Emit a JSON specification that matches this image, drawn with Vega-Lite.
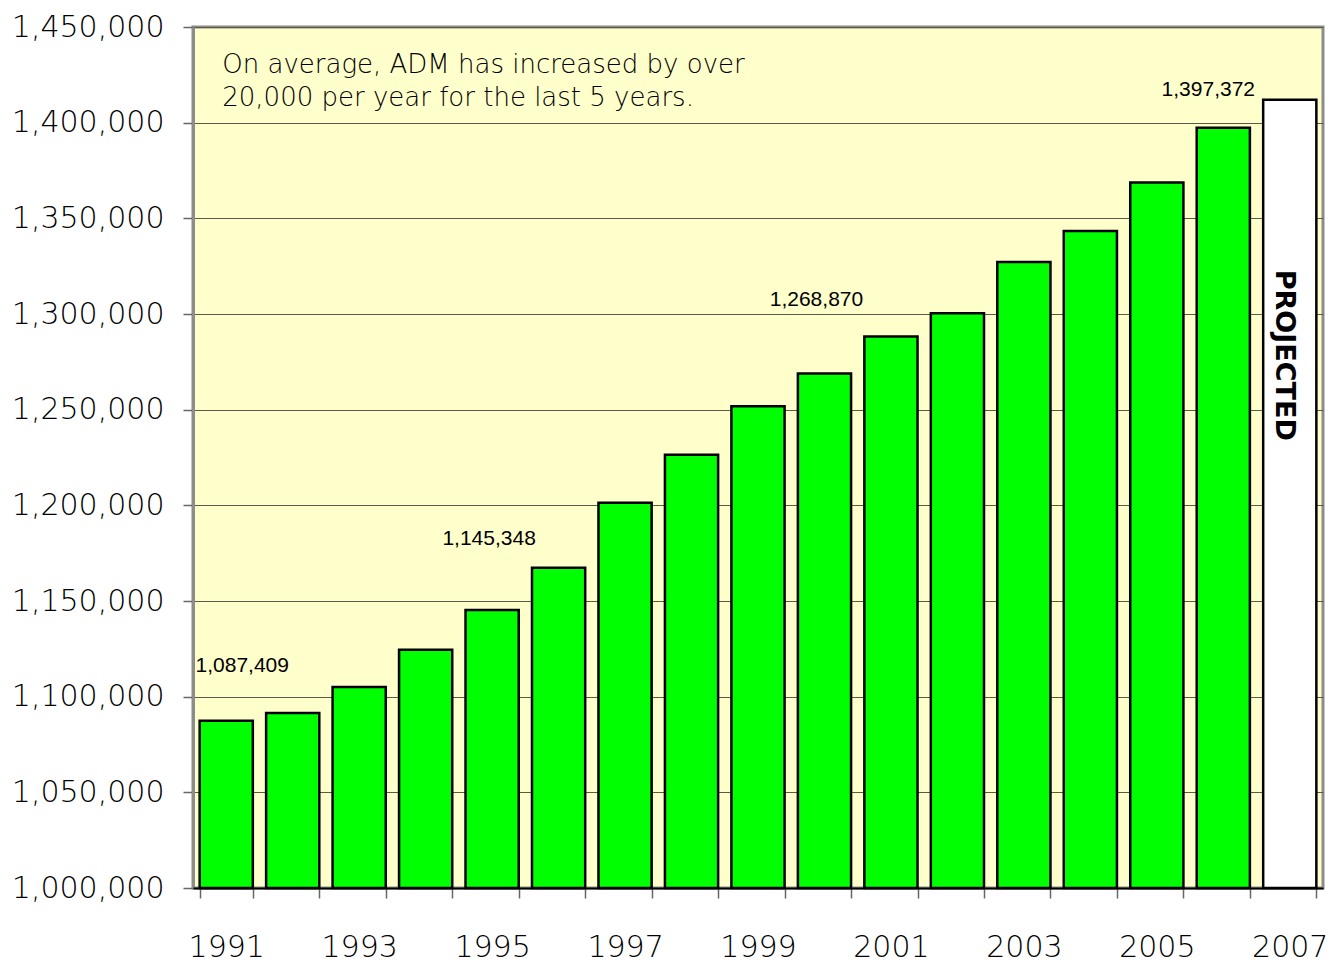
{
  "$schema": "https://vega.github.io/schema/vega-lite/v6.json",
  "width": 1130,
  "height": 861,
  "autosize": {"type": "none"},
  "padding": {"left": 193, "top": 27, "right": 16, "bottom": 76},
  "background": "#ffffff",
  "config": {
    "view": {"fill": "#FFFFCC", "stroke": "#8c8c8c", "strokeWidth": 3},
    "font": "DejaVu Sans",
    "axisY": {
      "title": null,
      "labelExpr": "format(datum.value, ',')",
      "labelFont": "DejaVu Sans",
      "labelFontSize": 30,
      "labelFontWeight": 200,
      "labelColor": "#000000",
      "labelPadding": 19,
      "tickColor": "#666666",
      "tickSize": 10,
      "tickWidth": 1.5,
      "domainColor": "#8c8c8c",
      "domainWidth": 3,
      "grid": true,
      "gridColor": "#5a5a4a",
      "gridWidth": 1,
      "gridOpacity": 1
    }
  },
  "data": {
    "values": [
      {"year": 1991, "adm": 1087409, "status": "actual"},
      {"year": 1992, "adm": 1091500, "status": "actual"},
      {"year": 1993, "adm": 1105100, "status": "actual"},
      {"year": 1994, "adm": 1124500, "status": "actual"},
      {"year": 1995, "adm": 1145348, "status": "actual"},
      {"year": 1996, "adm": 1167400, "status": "actual"},
      {"year": 1997, "adm": 1201400, "status": "actual"},
      {"year": 1998, "adm": 1226500, "status": "actual"},
      {"year": 1999, "adm": 1251800, "status": "actual"},
      {"year": 2000, "adm": 1268870, "status": "actual"},
      {"year": 2001, "adm": 1288300, "status": "actual"},
      {"year": 2002, "adm": 1300400, "status": "actual"},
      {"year": 2003, "adm": 1327200, "status": "actual"},
      {"year": 2004, "adm": 1343400, "status": "actual"},
      {"year": 2005, "adm": 1368700, "status": "actual"},
      {"year": 2006, "adm": 1397372, "status": "actual"},
      {"year": 2007, "adm": 1412000, "status": "projected"}
    ]
  },
  "encoding": {
    "x": {
      "field": "year",
      "type": "ordinal",
      "scale": {"paddingInner": 0.2, "paddingOuter": 0.1},
      "axis": {
        "title": null,
        "labelAngle": 0,
        "tickBand": "extent",
        "labelExpr": "datum.value % 2 == 1 ? datum.label : ''",
        "labelFont": "DejaVu Sans",
        "labelFontSize": 30,
        "labelFontWeight": 200,
        "labelColor": "#000000",
        "labelPadding": 34,
        "tickColor": "#666666",
        "tickSize": 10,
        "tickWidth": 1.5,
        "domainColor": "#000000",
        "domainWidth": 2,
        "grid": false,
        "zindex": 1
      }
    },
    "y": {
      "field": "adm",
      "type": "quantitative",
      "scale": {"domain": [1000000, 1450000], "nice": false, "zero": false},
      "axis": {
        "values": [1000000, 1050000, 1100000, 1150000, 1200000, 1250000, 1300000, 1350000, 1400000, 1450000]
      }
    }
  },
  "layer": [
    {
      "mark": {"type": "bar", "stroke": "#000000", "strokeWidth": 2.5},
      "encoding": {
        "y2": {"datum": 1000000},
        "color": {
          "field": "status",
          "type": "nominal",
          "scale": {"domain": ["actual", "projected"], "range": ["#00FF00", "#FFFFFF"]},
          "legend": null
        }
      }
    },
    {
      "transform": [{"filter": "datum.year == 1991"}],
      "mark": {"type": "text", "font": "Liberation Sans", "fontSize": 21, "align": "center", "baseline": "middle", "dx": 16, "dy": -55, "color": "#000000"},
      "encoding": {"text": {"field": "adm", "type": "quantitative", "format": ","}}
    },
    {
      "transform": [{"filter": "datum.year == 1995"}],
      "mark": {"type": "text", "font": "Liberation Sans", "fontSize": 21, "align": "center", "baseline": "middle", "dx": -3, "dy": -71, "color": "#000000"},
      "encoding": {"text": {"field": "adm", "type": "quantitative", "format": ","}}
    },
    {
      "transform": [{"filter": "datum.year == 2000"}],
      "mark": {"type": "text", "font": "Liberation Sans", "fontSize": 21, "align": "center", "baseline": "middle", "dx": -8, "dy": -74, "color": "#000000"},
      "encoding": {"text": {"field": "adm", "type": "quantitative", "format": ","}}
    },
    {
      "transform": [{"filter": "datum.year == 2006"}],
      "mark": {"type": "text", "font": "Liberation Sans", "fontSize": 21, "align": "center", "baseline": "middle", "dx": -15, "dy": -38, "color": "#000000"},
      "encoding": {"text": {"field": "adm", "type": "quantitative", "format": ","}}
    },
    {
      "transform": [{"filter": "datum.year == 2007"}],
      "mark": {"type": "text", "font": "DejaVu Sans", "fontWeight": "bold", "fontSize": 27, "angle": 90, "align": "center", "baseline": "middle", "dx": 3, "dy": 6, "color": "#000000"},
      "encoding": {"y": {"datum": 1280000, "type": "quantitative"}, "text": {"value": "PROJECTED"}}
    },
    {
      "transform": [{"filter": "datum.year == 1991"}],
      "mark": {"type": "text", "font": "DejaVu Sans", "fontSize": 26, "fontWeight": 200, "align": "left", "baseline": "middle", "dx": -4, "lineHeight": 33, "color": "#000000"},
      "encoding": {"y": {"datum": 1430000, "type": "quantitative"}, "text": {"value": ["On average, ADM has increased by over", "20,000 per year for the last 5 years."]}}
    }
  ]
}
